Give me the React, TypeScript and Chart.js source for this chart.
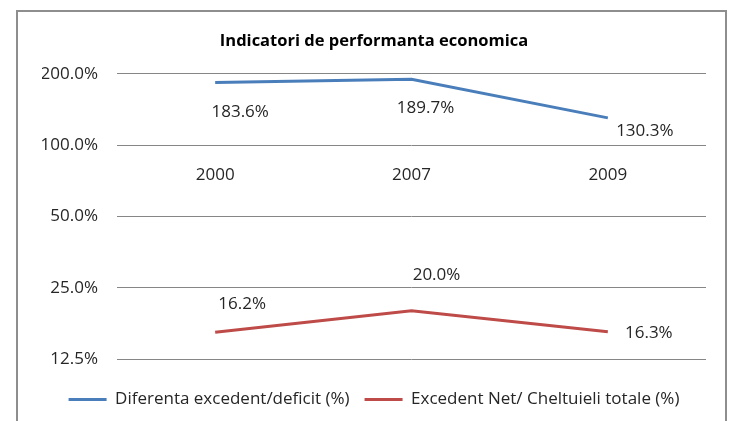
import React, { useEffect, useRef } from "react";
import { Chart, registerables } from "chart.js";

Chart.register(...registerables);

const categories = ["2000", "2007", "2009"];
const seriesNames = ["Diferenta excedent/deficit (%)", "Excedent Net/ Cheltuieli totale (%)"];
const diferentaValues = [183.6, 189.7, 130.3];
const excedentValues = [16.2, 20.0, 16.3];
const yTickValues = [12.5, 25, 50, 100, 200];
const chartTitle = "Indicatori de performanta economica";

// label offsets relative to each point (style/layout only)
const labelOffsets = [
  [[25, 30], [14, 29], [37, 13]],
  [[27, -28], [25, -35], [41, 1]],
];

const FONT = "Open Sans";
const TEXT = "#262626";

const dataLabelPlugin = {
  id: "dataLabels",
  afterDatasetsDraw(chart: any) {
    const ctx = chart.ctx;
    ctx.save();
    ctx.font = `17px "${FONT}"`;
    ctx.fillStyle = TEXT;
    ctx.textAlign = "center";
    ctx.textBaseline = "middle";
    chart.data.datasets.forEach((ds: any, di: number) => {
      const meta = chart.getDatasetMeta(di);
      meta.data.forEach((el: any, i: number) => {
        const off = labelOffsets[di][i];
        ctx.fillText(Number(ds.data[i]).toFixed(1) + "%", el.x + off[0], el.y + off[1]);
      });
    });
    ctx.restore();
  },
};

export default function App() {
  const ref = useRef<HTMLCanvasElement>(null);
  useEffect(() => {
    const chart = new Chart(ref.current!, {
      type: "line",
      data: {
        labels: categories,
        datasets: [
          {
            label: seriesNames[0],
            data: diferentaValues,
            borderColor: "#4A7EBB",
            backgroundColor: "#4A7EBB",
            borderWidth: 3,
            pointRadius: 0,
            tension: 0,
          },
          {
            label: seriesNames[1],
            data: excedentValues,
            borderColor: "#BE4B48",
            backgroundColor: "#BE4B48",
            borderWidth: 3,
            pointRadius: 0,
            tension: 0,
          },
        ],
      },
      options: {
        animation: false,
        responsive: false,
        maintainAspectRatio: false,
        layout: { padding: { left: 42, top: 20, right: 24, bottom: 0 } },
        scales: {
          y: {
            type: "logarithmic",
            min: 12.5,
            max: 200,
            afterBuildTicks: (s: any) => {
              s.ticks = yTickValues.map((v) => ({ value: v }));
            },
            afterFit: (s: any) => {
              s.width = 75;
            },
            ticks: {
              callback: (v: any) => Number(v).toFixed(1) + "%",
              font: { family: FONT, size: 17 },
              color: TEXT,
              padding: 19,
            },
            grid: { color: "#868686", drawTicks: false, lineWidth: 1 },
            border: { display: false },
          },
          x: {
            type: "category",
            position: { y: 100 } as any,
            offset: true,
            grid: { display: false },
            border: { display: false },
            ticks: {
              font: { family: FONT, size: 17 },
              color: TEXT,
              padding: 12,
            },
          },
          x2: {
            type: "category",
            position: "bottom",
            display: true,
            grid: { display: false },
            border: { display: false },
            ticks: { display: false },
            afterFit: (s: any) => {
              s.height = 17;
            },
          },
        },
        plugins: {
          title: {
            display: true,
            text: chartTitle,
            font: { family: FONT, size: 16.5, weight: "bold" },
            color: "#000",
            padding: { top: 11, bottom: 23 },
          },
          legend: {
            position: "bottom",
            labels: {
              boxWidth: 38,
              boxHeight: 3,
              padding: 15,
              color: TEXT,
              font: { family: FONT, size: 17 },
              generateLabels: (c: any) =>
                Chart.defaults.plugins.legend.labels
                  .generateLabels(c)
                  .map((l: any) => ({ ...l, lineWidth: 0 })),
            },
          },
          tooltip: { enabled: false },
        },
      },
      plugins: [dataLabelPlugin],
    } as any);
    return () => chart.destroy();
  }, []);

  return (
    <div style={{ position: "absolute", left: 0, top: 0, width: 730, height: 421, overflow: "hidden", background: "#fff" }}>
      <canvas ref={ref} width={730} height={418} style={{ position: "absolute", left: 0, top: 0, width: 730, height: 418 }} />
      <div
        style={{
          position: "absolute",
          left: 16,
          top: 10,
          width: 707,
          height: 500,
          border: "2px solid #8e8e8e",
          pointerEvents: "none",
        }}
      />
    </div>
  );
}
